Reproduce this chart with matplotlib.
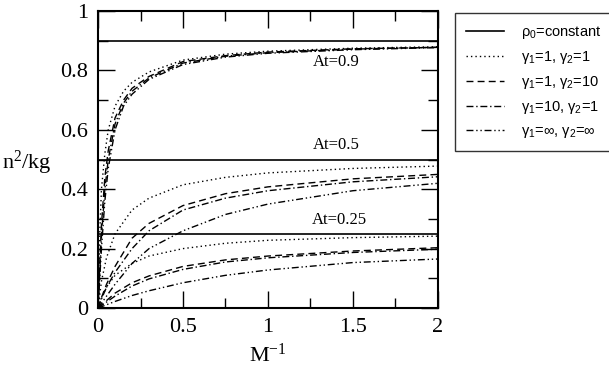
import numpy as np
import matplotlib
matplotlib.use("Agg")
import matplotlib.pyplot as plt
from matplotlib.ticker import MultipleLocator

# --- data (x = M^-1, y = n^2/kg) ---
at_levels = [0.9, 0.5, 0.25]
at_labels = ["At=0.9", "At=0.5", "At=0.25"]

x_ticks = [0, 0.5, 1, 1.5, 2]
x_ticklabels = ["0", "0.5", "1", "1.5", "2"]
y_ticks = [0, 0.2, 0.4, 0.6, 0.8, 1.0]
y_ticklabels = ["0", "0.2", "0.4", "0.6", "0.8", "1"]

# At = 0.9
x_09 = [0, 0.01, 0.02, 0.04, 0.06, 0.1, 0.15, 0.2, 0.3, 0.5, 0.75, 1.0, 1.5, 2.0]
y_09_g11 = [0, 0.25, 0.40, 0.52, 0.60, 0.68, 0.73, 0.76, 0.795, 0.835, 0.855, 0.865, 0.875, 0.880]
y_09_g110 = [0, 0.15, 0.28, 0.44, 0.53, 0.64, 0.70, 0.74, 0.780, 0.830, 0.850, 0.862, 0.873, 0.878]
y_09_g101 = [0, 0.12, 0.24, 0.40, 0.50, 0.62, 0.69, 0.73, 0.775, 0.825, 0.848, 0.860, 0.872, 0.878]
y_09_ginf = [0, 0.10, 0.20, 0.36, 0.47, 0.60, 0.68, 0.72, 0.770, 0.820, 0.845, 0.858, 0.870, 0.877]

# At = 0.5
x_05 = [0, 0.02, 0.05, 0.1, 0.2, 0.3, 0.5, 0.75, 1.0, 1.5, 2.0]
y_05_g11 = [0, 0.09, 0.17, 0.25, 0.33, 0.37, 0.415, 0.440, 0.455, 0.470, 0.478]
y_05_g110 = [0, 0.035, 0.08, 0.14, 0.235, 0.285, 0.345, 0.385, 0.408, 0.435, 0.450]
y_05_g101 = [0, 0.03, 0.07, 0.12, 0.20, 0.26, 0.330, 0.370, 0.395, 0.425, 0.442]
y_05_ginf = [0, 0.016, 0.04, 0.08, 0.15, 0.20, 0.260, 0.315, 0.350, 0.395, 0.420]

# At = 0.25
x_025 = [0, 0.02, 0.05, 0.1, 0.2, 0.3, 0.5, 0.75, 1.0, 1.5, 2.0]
y_025_g11 = [0, 0.035, 0.07, 0.11, 0.15, 0.175, 0.200, 0.218, 0.228, 0.237, 0.242]
y_025_g110 = [0, 0.01, 0.025, 0.05, 0.085, 0.108, 0.140, 0.162, 0.175, 0.192, 0.203]
y_025_g101 = [0, 0.008, 0.02, 0.04, 0.074, 0.098, 0.130, 0.155, 0.169, 0.187, 0.198]
y_025_ginf = [0, 0.004, 0.011, 0.022, 0.042, 0.058, 0.085, 0.110, 0.128, 0.153, 0.165]

labels = [r"$\mathregular{\rho_0}$=constant",
          r"$\mathregular{\gamma_1}$=1, $\mathregular{\gamma_2}$=1",
          r"$\mathregular{\gamma_1}$=1, $\mathregular{\gamma_2}$=10",
          r"$\mathregular{\gamma_1}$=10, $\mathregular{\gamma_2}$=1",
          r"$\mathregular{\gamma_1}$=$\mathregular{\infty}$, $\mathregular{\gamma_2}$=$\mathregular{\infty}$"]

styles = [(0, (1, 2.2)), (0, (5, 3)), (0, (5, 2, 1, 2)), (0, (5, 2, 1, 2, 1, 2))]

plt.rcParams['font.family'] = ['Liberation Serif', 'DejaVu Serif']

fig = plt.figure(figsize=(6.09, 3.70), dpi=100)
ax = fig.add_axes([0.161, 0.1676, 0.558, 0.8024])

lw = 1.0
handles = []
for lvl in at_levels:
    h = ax.axhline(lvl, color='black', lw=1.2)
handles.append(h)

groups = [
    (x_09, [y_09_g11, y_09_g110, y_09_g101, y_09_ginf]),
    (x_05, [y_05_g11, y_05_g110, y_05_g101, y_05_ginf]),
    (x_025, [y_025_g11, y_025_g110, y_025_g101, y_025_ginf]),
]
for gi, (xs, ys) in enumerate(groups):
    for si, y in enumerate(ys):
        ln, = ax.plot(xs, y, color='black', lw=lw, linestyle=styles[si])
        if gi == 0:
            handles.append(ln)

# At labels
ax.text(1.4, 0.83, at_labels[0], ha='center', va='center', fontsize=12)
ax.text(1.4, 0.55, at_labels[1], ha='center', va='center', fontsize=12)
ax.text(1.42, 0.297, at_labels[2], ha='center', va='center', fontsize=12)

ax.set_xlim(0, 2)
ax.set_ylim(0, 1)
ax.set_xticks(x_ticks, x_ticklabels)
ax.set_yticks(y_ticks, y_ticklabels)
ax.xaxis.set_minor_locator(MultipleLocator(0.25))
ax.yaxis.set_minor_locator(MultipleLocator(0.1))
ax.tick_params(which='both', direction='in', top=True, right=True, labelsize=16, width=1.0)
ax.tick_params(which='major', length=12, pad=7)
ax.tick_params(which='minor', length=7)
for sp in ax.spines.values():
    sp.set_linewidth(1.5)

ax.set_xlabel(r"$\mathregular{M^{-1}}$", fontsize=16, labelpad=5)
ax.set_ylabel(r"$\mathregular{n^2/kg}$", fontsize=16, rotation=0)
ax.yaxis.set_label_coords(-0.209, 0.488)
ax.yaxis.label.set_va('center')

leg = fig.legend(handles, labels, loc='upper left', bbox_to_anchor=(0.747, 0.965),
                 prop={'family': 'Liberation Sans', 'size': 10.5},
                 frameon=True, fancybox=False, borderaxespad=0, handlelength=2.6,
                 handletextpad=1.2, labelspacing=0.55, borderpad=0.75)
leg.get_frame().set_edgecolor('black')
leg.get_frame().set_linewidth(1.0)

fig.savefig("out.png", dpi=100)
